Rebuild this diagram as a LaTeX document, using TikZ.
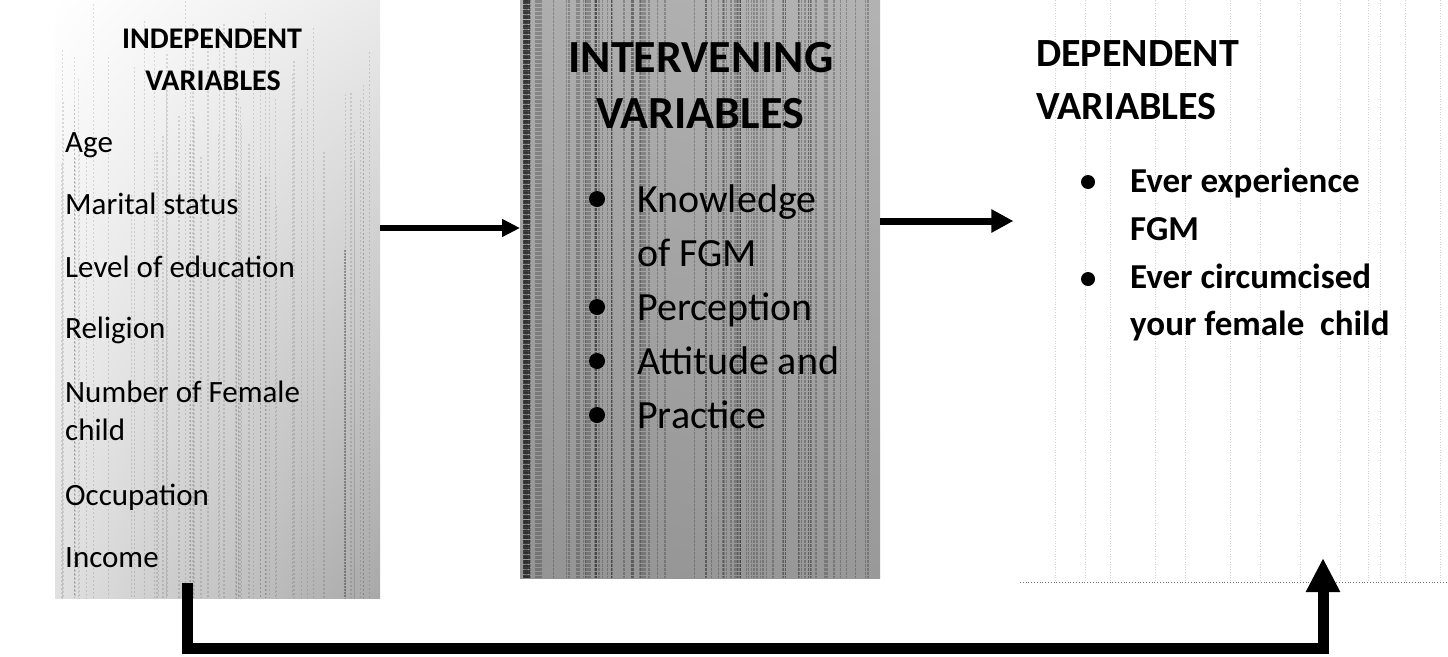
\documentclass[tikz,border=0pt]{standalone}
\usepackage{fontspec}
\setmainfont{Carlito}
\usetikzlibrary{arrows.meta,shadings}
\tikzset{
  itemtext/.style={anchor=base west, inner sep=0pt, font=\fontsize{31}{38}\selectfont},
  headtext/.style={anchor=base, inner sep=0pt, font=\bfseries\fontsize{30}{42}\selectfont},
  bigheadtext/.style={anchor=base, inner sep=0pt, font=\bfseries\fontsize{46}{56}\selectfont},
  midtext/.style={anchor=base west, inner sep=0pt, font=\fontsize{40}{54}\selectfont},
  dephead/.style={anchor=base west, inner sep=0pt, font=\bfseries\fontsize{40}{53}\selectfont},
  deptext/.style={anchor=base west, inner sep=0pt, font=\bfseries\fontsize{35}{48}\selectfont},
  dot/.style={circle, fill=black, inner sep=0pt, minimum size=#1},
  box/.style={rectangle, inner sep=0pt, draw=none, anchor=north west},
  conn/.style={draw=black, line width=#1, -{Triangle[length=18pt,width=17pt]}},
  streak/.style={line width=#1, black, opacity=0.22}
}
\begin{document}
\begin{tikzpicture}[x=1pt,y=-1pt]
\useasboundingbox (0,0) rectangle (1448,656);
\fill[white] (0,0) rectangle (1448,656);

% ---------- boxes ----------
\node[box, minimum width=325pt, minimum height=598pt, shade,
  upper left=white, upper right=black!8, lower left=black!12, lower right=black!34] (indep) at (55,0) {};
\node[box, minimum width=360pt, minimum height=578pt, shade,
  upper left=black!32, upper right=black!30, lower left=black!42, lower right=black!40] (interv) at (520,0) {};
\node[box, minimum width=428pt, minimum height=582pt, fill=white] (dep) at (1020,0) {};

% textures
\pgfmathsetseed{11}
\foreach \i in {1,...,90}{
  \pgfmathsetmacro\xx{525+352*rnd}
  \pgfmathsetmacro\ww{0.5+2.0*rnd}
  \draw[streak=\ww pt, dash pattern=on 3pt off 1pt] (\xx,0) -- (\xx,578);
}
\draw[line width=7pt, black, opacity=0.6, dash pattern=on 4pt off 1pt] (526,0) -- (526,578);
\foreach \i in {1,...,60}{
  \pgfmathsetmacro\xx{60+318*rnd}
  \pgfmathsetmacro\yy{220*rnd}
  \pgfmathsetmacro\ww{0.5+1.4*rnd}
  \draw[line width=\ww pt, black, opacity=0.12, dash pattern=on 2pt off 2pt] (\xx,\yy) -- (\xx,598);
}
\draw[line width=1.5pt, black, opacity=0.3, dash pattern=on 2pt off 1pt] (345,250) -- (345,598);
\foreach \xx in {1055,1085,1110,1155,1185,1230,1260,1300,1340,1368,1380,1405,1440}{
  \draw[black!45, line width=0.6pt, dotted, opacity=0.4] (\xx,0) -- (\xx,582);
}
\draw[black!55, line width=0.8pt, dotted] (dep.south west) -- (dep.south east);

% ---------- left column ----------
\node[headtext] (indhead1) at (212,48) {INDEPENDENT};
\node[headtext] (indhead2) at (213,90) {VARIABLES};
\node[itemtext] (age) at (65,152) {Age};
\node[itemtext] (marital) at (65,214) {Marital status};
\node[itemtext] (educ) at (65,277) {Level of education};
\node[itemtext] (relig) at (65,338) {Religion};
\node[itemtext] (female) at (65,402) {Number of Female};
\node[itemtext] (child) at (65,440) {child};
\node[itemtext] (occup) at (65,505) {Occupation};
\node[itemtext] (income) at (65,567) {Income};

% ---------- middle column ----------
\node[bigheadtext] (inthead1) at (701,72) {INTERVENING};
\node[bigheadtext] (inthead2) at (700,128) {VARIABLES};
\node[midtext] (know) at (637,212) {Knowledge};
\node[midtext] (fgm) at (637,266) {of FGM};
\node[midtext] (perc) at (637,320) {Perception};
\node[midtext] (att) at (637,374) {Attitude and};
\node[midtext] (prac) at (637,428) {Practice};
\node[dot=16pt] (b1) at (597,199) {};
\node[dot=16pt] (b2) at (597,307) {};
\node[dot=16pt] (b3) at (597,361) {};
\node[dot=16pt] (b4) at (597,415) {};

% ---------- right column ----------
\node[dephead] (dephd1) at (1036,66) {DEPENDENT};
\node[dephead] (dephd2) at (1036,119) {VARIABLES};
\node[deptext] (ever1) at (1130,192) {Ever experience};
\node[deptext] (ever1b) at (1130,240) {FGM};
\node[deptext] (ever2) at (1130,288) {Ever circumcised};
\node[deptext] (ever2b) at (1130,335) {your female\ \ child};
\node[dot=14pt] (d1) at (1088,182) {};
\node[dot=14pt] (d2) at (1088,279) {};

% ---------- connectors ----------
\coordinate (row1) at (0,228);
\coordinate (row2) at (0,221);
\coordinate (tail) at (187,583);
\coordinate (bottom) at (0,648);
\coordinate (tip) at (1323,558);
\draw[conn=6pt] (indep.east |- row1) -- (interv.west |- row1);
\draw[line width=7pt, -{Triangle[length=22pt,width=22pt]}] (interv.east |- row2) -- ([xshift=133pt]interv.east |- row2);
\draw[line width=11pt, -{Triangle[length=34pt,width=32pt]}] (tail) -- (tail |- bottom) -| (tip);
\end{tikzpicture}
\end{document}
